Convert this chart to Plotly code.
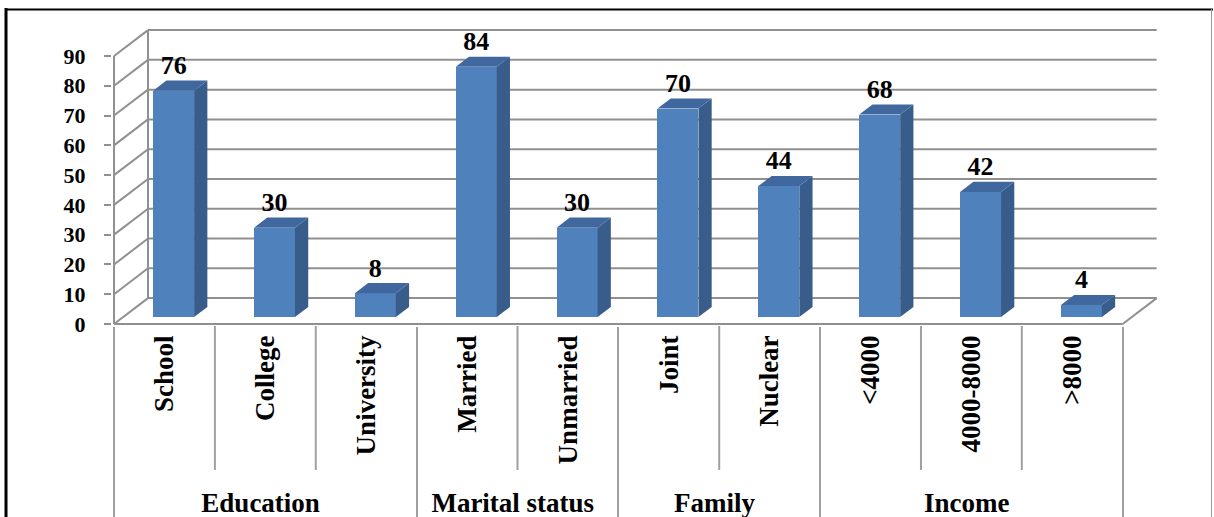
import plotly.graph_objects as go

# ---------------- data ----------------
groups = ["Education", "Education", "Education",
          "Marital status", "Marital status",
          "Family", "Family",
          "Income", "Income", "Income"]
categories = ["School", "College", "University", "Married", "Unmarried",
              "Joint", "Nuclear", "<4000", "4000-8000", ">8000"]
values = [76, 30, 8, 84, 30, 70, 44, 68, 42, 4]
y_ticks = [0, 10, 20, 30, 40, 50, 60, 70, 80, 90]

# ---------------- style / geometry ----------------
W, H = 1214, 517
ML, MR, MT, MB = 112, 54, 28, 191
PLOT_W = W - ML - MR
PLOT_H = H - MT - MB
X_RANGE = [-0.52, 9.87]
Y_RANGE = [-0.67, 99.4]
DX, DY = 0.337, 8.7          # depth of the 3-D box (axis units)
F_FRONT, F_BACK = 0.27, 0.66  # bar depth position inside the box
BAR_W = 0.406
FRONT_C, SIDE_C, TOP_C = "#4F81BD", "#385D8A", "#41689E"
GRID_C = "#909090"
DIV_C = "#a0a0a0"
FONT = "Liberation Serif"

n = len(categories)
x_lo, x_hi = -0.5, n - 0.5
y_top = max(y_ticks)

fig = go.Figure()

# front faces of bars (real bar trace on the multicategory axis)
base0 = F_FRONT * DY
fig.add_trace(go.Bar(
    x=[groups, categories], y=values, base=base0,
    width=BAR_W, offset=-BAR_W / 2 + F_FRONT * DX,
    marker=dict(color=FRONT_C, line=dict(width=0)),
    hoverinfo="skip", showlegend=False,
))

# side + top faces derived from the values
dfx = (F_BACK - F_FRONT) * DX
dfy = (F_BACK - F_FRONT) * DY
sx, sy, tx, ty = [], [], [], []
lx, ly = [], []
for i, v in enumerate(values):
    xl = i + F_FRONT * DX - BAR_W / 2
    xr = xl + BAR_W
    y1 = base0 + v
    sx += [xr, xr + dfx, xr + dfx, xr, xr, None]
    sy += [base0, base0 + dfy, y1 + dfy, y1, base0, None]
    tx += [xl, xr, xr + dfx, xl + dfx, xl, None]
    ty += [y1, y1, y1 + dfy, y1 + dfy, y1, None]
    lx.append(i + F_FRONT * DX)
    ly.append(y1 + dfy)

fig.add_trace(go.Scatter(x=sx, y=sy, xaxis="x2", yaxis="y", mode="lines",
                         fill="toself", fillcolor=SIDE_C, line=dict(width=0),
                         hoverinfo="skip", showlegend=False))
fig.add_trace(go.Scatter(x=tx, y=ty, xaxis="x2", yaxis="y", mode="lines",
                         fill="toself", fillcolor=TOP_C, line=dict(width=0),
                         hoverinfo="skip", showlegend=False))
fig.add_trace(go.Scatter(x=lx, y=ly, xaxis="x2", yaxis="y", mode="text",
                         text=[str(v) for v in values], textposition="top center",
                         textfont=dict(family=FONT, size=26, color="black", weight="bold"),
                         cliponaxis=False, hoverinfo="skip", showlegend=False))

# 3-D box: back wall gridlines, side wall diagonals, floor
shapes = []
def ln(x0, y0, x1, y1, color=GRID_C, w=2, xref="x2", yref="y"):
    shapes.append(dict(type="line", xref=xref, yref=yref, x0=x0, y0=y0, x1=x1, y1=y1,
                       line=dict(color=color, width=w), layer="below"))

for v in y_ticks:
    ln(x_lo + DX, v + DY, x_hi + DX, v + DY)      # back wall gridline
    ln(x_lo, v, x_lo + DX, v + DY)                # side wall diagonal
ln(x_lo + DX, DY, x_lo + DX, y_top + DY)          # back wall left edge
ln(x_lo, 0, x_lo, y_top)                          # front vertical (axis line)
ln(x_lo, 0, x_hi, 0)                              # floor front edge
ln(x_hi, 0, x_hi + DX, DY)                        # floor right edge

def px(xp):
    return (xp - ML) / PLOT_W
def py(yp):
    return (H - MB - yp) / PLOT_H

# inner category dividers below the floor (between categories of a group)
for k in range(1, n):
    if groups[k] == groups[k - 1]:
        shapes.append(dict(type="line", xref="x2", yref="paper", x0=k - 0.5, x1=k - 0.5,
                           y0=0, y1=py(470), line=dict(color=DIV_C, width=2)))

# outer frame (paper coords from pixel positions)
shapes.append(dict(type="line", xref="paper", yref="paper", x0=px(6), x1=px(6),
                   y0=py(8), y1=py(530), line=dict(color="black", width=3)))
shapes.append(dict(type="line", xref="paper", yref="paper", x0=px(5), x1=px(1213),
                   y0=py(9.5), y1=py(9.5), line=dict(color="black", width=2)))
shapes.append(dict(type="line", xref="paper", yref="paper", x0=px(1211.5), x1=px(1211.5),
                   y0=py(9), y1=py(530), line=dict(color="#9a9a9a", width=1)))

fig.update_layout(
    width=W, height=H,
    margin=dict(l=ML, r=MR, t=MT, b=MB, autoexpand=False),
    paper_bgcolor="white", plot_bgcolor="rgba(0,0,0,0)",
    shapes=shapes, showlegend=False, bargap=0,
    xaxis=dict(
        type="multicategory", range=X_RANGE, automargin=False,
        tickangle=-90,
        tickfont=dict(family=FONT, size=27, color="black", weight="bold"),
        showdividers=True, dividercolor=DIV_C, dividerwidth=2,
        ticks="", ticklabelstandoff=3,
        showgrid=False, showline=False, zeroline=False,
    ),
    xaxis2=dict(overlaying="x", range=X_RANGE, visible=False, anchor="y"),
    yaxis=dict(
        range=Y_RANGE, tickvals=y_ticks, automargin=False,
        ticks="outside", ticklen=7, tickcolor=GRID_C, tickwidth=2,
        ticklabelstandoff=14,
        tickfont=dict(family=FONT, size=22, color="black", weight="bold"),
        showgrid=False, showline=False, zeroline=False,
    ),
)

fig.write_html("out.html")
